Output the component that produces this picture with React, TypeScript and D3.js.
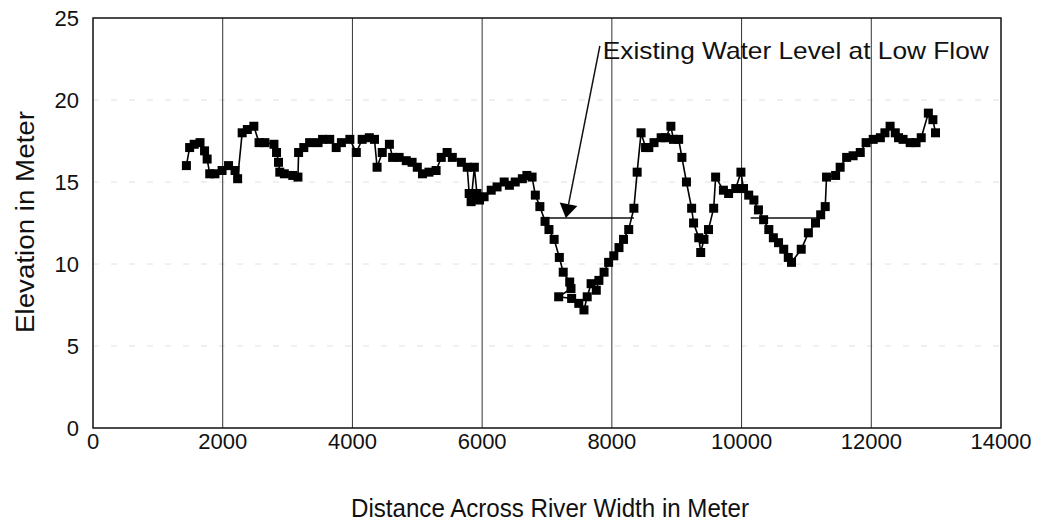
import React from "react";
import * as d3 from "d3";

// Survey points across the river: distance (m) and elevation (m)
const distance: number[] = [
  1440, 1490, 1560, 1650, 1720, 1760, 1800, 1880, 1990, 2090, 2190, 2230,
  2300, 2380, 2480, 2560, 2650, 2790, 2830, 2860, 2880, 2950, 3080, 3160,
  3170, 3250, 3340, 3470, 3540, 3650, 3750, 3830, 3960, 4060, 4150, 4260,
  4340, 4380, 4460, 4570, 4620, 4720, 4830, 4920, 5000, 5080, 5180, 5290,
  5370, 5460, 5540, 5680, 5770, 5800, 5830, 5880, 5920, 5960, 6030, 6140,
  6230, 6340, 6420, 6510, 6620, 6690, 6770, 6820, 6890, 6970, 7030, 7110,
  7190, 7250, 7350, 7370, 7180, 7380, 7490, 7570, 7620, 7680, 7760, 7800,
  7880, 7950, 8030, 8110, 8180, 8260, 8340, 8390, 8450, 8520, 8570, 8650,
  8760, 8830, 8910, 8950, 9030, 9080, 9150, 9230, 9260, 9340, 9370, 9420,
  9490, 9570, 9600, 9720, 9800, 9910, 9990, 10030, 10110, 10190, 10260, 10340,
  10420, 10490, 10570, 10650, 10720, 10770, 10920, 11030, 11140, 11220, 11290, 11310,
  11450, 11520, 11620, 11720, 11830, 11920, 12030, 12140, 12210, 12290, 12370, 12420,
  12490, 12600, 12690, 12770, 12880, 12950, 12990,
];
const elevation: number[] = [
  16.0, 17.1, 17.3, 17.4, 16.9, 16.4, 15.5, 15.5, 15.7, 16.0, 15.7, 15.2,
  18.0, 18.2, 18.4, 17.4, 17.4, 17.3, 16.8, 16.2, 15.6, 15.5, 15.4, 15.3,
  16.8, 17.1, 17.4, 17.4, 17.6, 17.6, 17.1, 17.4, 17.6, 16.8, 17.6, 17.7,
  17.6, 15.9, 16.8, 17.3, 16.5, 16.5, 16.3, 16.2, 15.9, 15.5, 15.6, 15.7,
  16.5, 16.8, 16.5, 16.2, 15.9, 14.3, 13.8, 15.9, 14.3, 13.9, 14.1, 14.5,
  14.7, 15.0, 14.8, 15.0, 15.2, 15.4, 15.3, 14.2, 13.5, 12.6, 12.1, 11.5,
  10.4, 9.5, 8.9, 8.5, 8.0, 7.9, 7.6, 7.2, 8.0, 8.8, 8.4, 9.0,
  9.5, 10.1, 10.5, 11.0, 11.5, 12.1, 13.4, 15.6, 18.0, 17.1, 17.1, 17.4,
  17.7, 17.7, 18.4, 17.6, 17.6, 16.5, 15.0, 13.4, 12.5, 11.6, 10.7, 11.5,
  12.1, 13.4, 15.3, 14.5, 14.3, 14.6, 15.6, 14.6, 14.2, 13.9, 13.3, 12.7,
  12.1, 11.6, 11.3, 10.9, 10.4, 10.1, 10.9, 11.9, 12.5, 13.0, 13.5, 15.3,
  15.4, 15.9, 16.5, 16.6, 16.8, 17.4, 17.6, 17.7, 18.0, 18.4, 18.0, 17.7,
  17.6, 17.4, 17.4, 17.7, 19.2, 18.8, 18.0,
];

// Existing water level at low flow (two pools)
const waterStart: number[] = [6950, 10140];
const waterEnd: number[] = [8340, 11210];
const waterLevel: number[] = [12.8, 12.8];

const xTicks: number[] = [0, 2000, 4000, 6000, 8000, 10000, 12000, 14000];
const yTicks: number[] = [0, 5, 10, 15, 20, 25];

const annotationText = "Existing Water Level at Low Flow";
const annotationPos: [number, number] = [7860, 22.5];
const arrowStart: [number, number] = [7815, 23.3];
const arrowTip: [number, number] = [7290, 12.8];

const W = 1037;
const H = 529;
const FONT = "'Liberation Sans', Arial, Helvetica, sans-serif";

export default function App() {
  const x = d3.scaleLinear().domain([0, 14000]).range([93, 1001]);
  const y = d3.scaleLinear().domain([0, 25]).range([428, 18]);
  const pts = distance.map((d, i) => [d, elevation[i]] as [number, number]);
  const line = d3
    .line<[number, number]>()
    .x((d) => x(d[0]))
    .y((d) => y(d[1]));

  const [x0, x1] = x.range();
  const [yb, yt] = y.range();
  const sq = 9;

  // arrowhead
  const tx = x(arrowTip[0]);
  const ty = y(arrowTip[1]);
  const sx = x(arrowStart[0]);
  const sy = y(arrowStart[1]);
  const ang = Math.atan2(ty - sy, tx - sx);
  const hl = 14;
  const hw = 9;
  const bx = tx - hl * Math.cos(ang);
  const by = ty - hl * Math.sin(ang);
  const head = [
    [tx, ty],
    [bx + hw * Math.sin(ang), by - hw * Math.cos(ang)],
    [bx - hw * Math.sin(ang), by + hw * Math.cos(ang)],
  ];

  return (
    <svg
      width={W}
      height={H}
      style={{ position: "absolute", left: 0, top: 0, background: "#fff" }}
      fontFamily={FONT}
    >
      <rect x={0} y={0} width={W} height={H} fill="#fff" />
      {/* horizontal gridlines (faint) */}
      {yTicks
        .filter((t) => t > 0 && t < 25)
        .map((t) => (
          <line
            key={"hy" + t}
            x1={x0}
            x2={x1}
            y1={y(t)}
            y2={y(t)}
            stroke="#e0e0e0"
            strokeWidth={1}
            strokeDasharray="6,12"
          />
        ))}
      {/* vertical gridlines */}
      {xTicks
        .filter((t) => t > 0 && t < 14000)
        .map((t) => (
          <line
            key={"vx" + t}
            x1={x(t)}
            x2={x(t)}
            y1={yt}
            y2={yb}
            stroke="#333"
            strokeWidth={1}
          />
        ))}
      {/* frame */}
      <rect
        x={x0}
        y={yt}
        width={x1 - x0}
        height={yb - yt}
        fill="none"
        stroke="#111"
        strokeWidth={1.5}
      />
      {/* y ticks */}
      {yTicks.map((t) => (
        <text
          key={"yt" + t}
          x={79}
          y={y(t)}
          dy="0.36em"
          textAnchor="end"
          fontSize={22}
          fill="#111"
        >
          {t}
        </text>
      ))}
      {/* x ticks */}
      {xTicks.map((t) => (
        <text
          key={"xt" + t}
          x={x(t)}
          y={449}
          textAnchor="middle"
          fontSize={22}
          fill="#111"
        >
          {t}
        </text>
      ))}
      {/* axis titles */}
      <text
        x={550}
        y={517}
        textAnchor="middle"
        fontSize={25}
        fill="#111"
        textLength={398}
        lengthAdjust="spacingAndGlyphs"
      >
        Distance Across River Width in Meter
      </text>
      <text
        transform={`translate(34,222) rotate(-90)`}
        textAnchor="middle"
        fontSize={26}
        fill="#111"
        textLength={222}
        lengthAdjust="spacingAndGlyphs"
      >
        Elevation in Meter
      </text>
      {/* water level lines */}
      {waterStart.map((s, i) => (
        <line
          key={"w" + i}
          x1={x(s)}
          x2={x(waterEnd[i])}
          y1={y(waterLevel[i])}
          y2={y(waterLevel[i])}
          stroke="#111"
          strokeWidth={1.5}
        />
      ))}
      {/* profile line */}
      <path d={line(pts) || ""} fill="none" stroke="#000" strokeWidth={1.6} />
      {pts.map((p, i) => (
        <rect
          key={"p" + i}
          x={x(p[0]) - sq / 2}
          y={y(p[1]) - sq / 2}
          width={sq}
          height={sq}
          fill="#000"
        />
      ))}
      {/* annotation */}
      <line x1={sx} y1={sy} x2={bx} y2={by} stroke="#111" strokeWidth={1.5} />
      <polygon points={head.map((p) => p.join(",")).join(" ")} fill="#000" />
      <text
        x={x(annotationPos[0])}
        y={y(annotationPos[1])}
        fontSize={24}
        fill="#111"
        textLength={386}
        lengthAdjust="spacingAndGlyphs"
      >
        {annotationText}
      </text>
    </svg>
  );
}
